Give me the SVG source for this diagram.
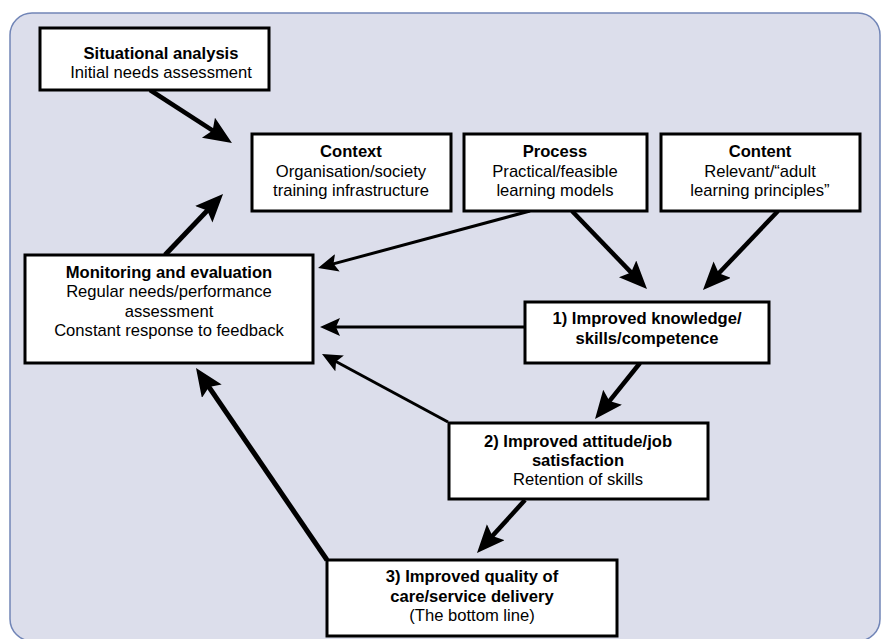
<svg xmlns="http://www.w3.org/2000/svg" width="884" height="639" viewBox="0 0 884 639">
<defs>
<style>
.box{fill:#fff;stroke:#000;stroke-width:3}
text{font-family:"Liberation Sans",Arial,sans-serif;font-size:16.6px;fill:#000;text-anchor:middle}
.b{font-weight:bold}
.ln{stroke:#000;fill:none;stroke-linecap:butt}
.thick{stroke-width:4.5}
.thin{stroke-width:3}
</style>
<marker id="ah" markerUnits="userSpaceOnUse" markerWidth="30" markerHeight="26" refX="14" refY="12" orient="auto">
<path d="M0,0 L28,12 L0,24 L5,12 z" fill="#000"/>
</marker>
<marker id="ahs" markerUnits="userSpaceOnUse" markerWidth="22" markerHeight="20" refX="10" refY="9" orient="auto">
<path d="M0,0 L20,9 L0,18 L4,9 z" fill="#000"/>
</marker>
</defs>
<rect x="10" y="13" width="870" height="628" rx="22" fill="#dcdeeb" stroke="#7185b7" stroke-width="1.5"/>

<g id="connectors">
<line class="ln thick" x1="150" y1="90" x2="220.2" y2="135.4" marker-end="url(#ah)"/>
<line class="ln thick" x1="165" y1="255" x2="213.4" y2="204.1" marker-end="url(#ah)" style="stroke-width:5"/>
<line class="ln thin" x1="530" y1="211" x2="327.7" y2="265.4" marker-end="url(#ahs)"/>
<line class="ln thick" x1="572" y1="211" x2="637.3" y2="278.9" marker-end="url(#ah)"/>
<line class="ln thick" x1="778" y1="211" x2="712.6" y2="279.8" marker-end="url(#ah)"/>
<line class="ln thin" x1="525" y1="327" x2="330" y2="327" marker-end="url(#ahs)"/>
<line class="ln thick" x1="640" y1="363" x2="603.8" y2="408.1" marker-end="url(#ah)"/>
<line class="ln thin" x1="448" y1="422" x2="330.8" y2="358.7" marker-end="url(#ahs)"/>
<line class="ln thick" x1="525" y1="500" x2="486.4" y2="542.6" marker-end="url(#ah)"/>
<line class="ln thick" x1="327" y1="560" x2="203.9" y2="379.6" marker-end="url(#ah)" style="stroke-width:5"/>
</g>

<g id="situational">
<rect class="box" x="40" y="28" width="229" height="62"/>
<text class="b" x="161" y="59">Situational analysis</text>
<text x="161" y="78">Initial needs assessment</text>
</g>

<g id="context">
<rect class="box" x="252" y="134" width="199" height="77"/>
<text class="b" x="351" y="157">Context</text>
<text x="351" y="177">Organisation/society</text>
<text x="351" y="196">training infrastructure</text>
</g>

<g id="process">
<rect class="box" x="464" y="134" width="183" height="77"/>
<text class="b" x="555" y="157">Process</text>
<text x="555" y="177">Practical/feasible</text>
<text x="555" y="196">learning models</text>
</g>

<g id="content">
<rect class="box" x="661" y="134" width="199" height="77"/>
<text class="b" x="760" y="157">Content</text>
<text x="760" y="177">Relevant/“adult</text>
<text x="760" y="196">learning principles”</text>
</g>

<g id="monitoring">
<rect class="box" x="25" y="255" width="288" height="108"/>
<text class="b" x="169" y="278">Monitoring and evaluation</text>
<text x="169" y="297">Regular needs/performance</text>
<text x="169" y="317">assessment</text>
<text x="169" y="336">Constant response to feedback</text>
</g>

<g id="knowledge">
<rect class="box" x="525" y="302" width="244" height="61"/>
<text class="b" x="647" y="324">1) Improved knowledge/</text>
<text class="b" x="647" y="344">skills/competence</text>
</g>

<g id="attitude">
<rect class="box" x="449" y="423" width="259" height="76"/>
<text class="b" x="578" y="447">2) Improved attitude/job</text>
<text class="b" x="578" y="466">satisfaction</text>
<text x="578" y="485">Retention of skills</text>
</g>

<g id="quality">
<rect class="box" x="327" y="560" width="290" height="76"/>
<text class="b" x="472" y="582">3) Improved quality of</text>
<text class="b" x="472" y="602">care/service delivery</text>
<text x="472" y="621">(The bottom line)</text>
</g>
</svg>
